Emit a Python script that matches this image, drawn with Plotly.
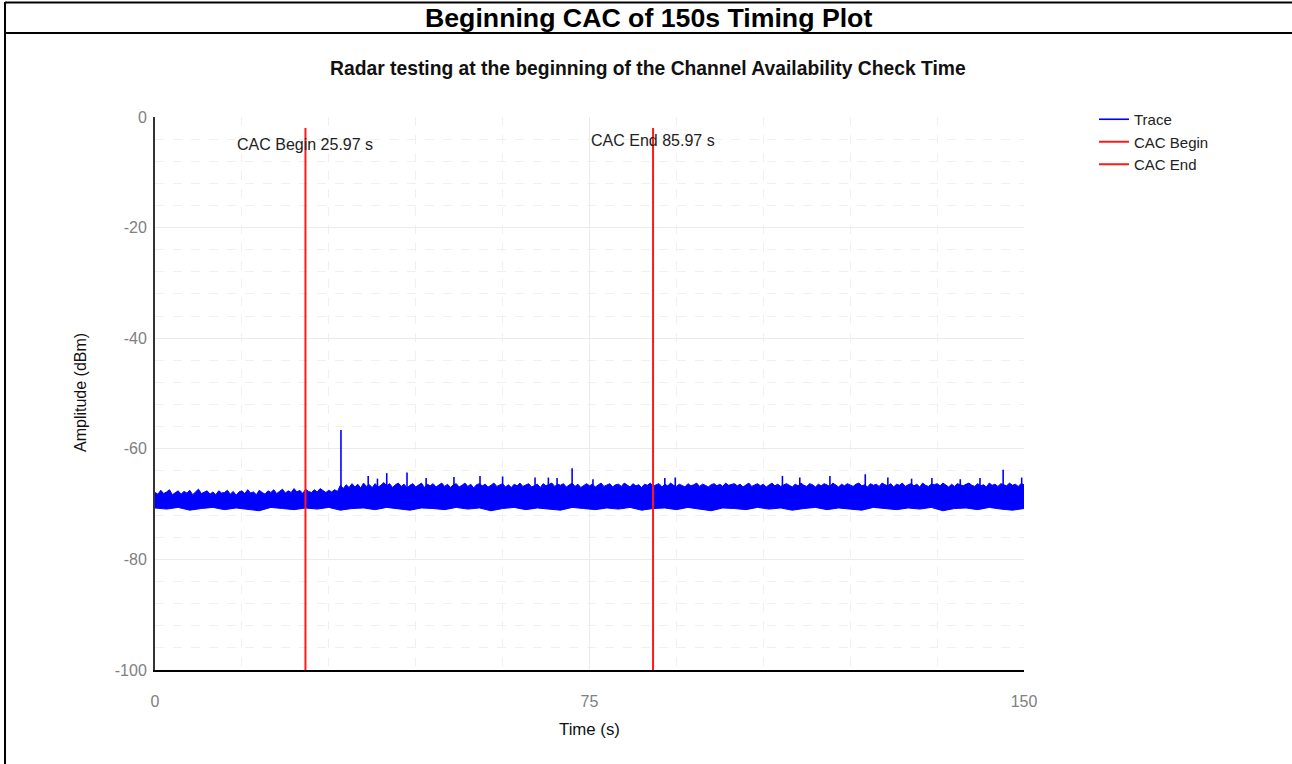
import numpy as np
import plotly.graph_objects as go

# ---- data ----
page_title = "Beginning CAC of 150s Timing Plot"
chart_title = "Radar testing at the beginning of the Channel Availability Check Time"

# upper edge of the noise floor, one value every 0.5 s (0 .. 150 s)
band_step = 0.5
band_top = [
    -67.9, -68.2, -67.5, -68.1, -67.8, -67.4, -68.3, -67.9, -67.6, -68.2, -67.7, -68.0, -67.5, -68.3, -67.8, -67.3, -68.1, -67.9, -67.6, -68.2,
    -67.8, -68.3, -67.6, -68.0, -67.9, -67.5, -68.2, -67.7, -68.4, -67.8, -67.6, -68.1, -67.4, -68.0, -67.8, -68.3, -67.5, -67.9, -68.2, -67.6,
    -67.9, -67.4, -68.1, -67.7, -67.3, -68.0, -67.6, -67.9, -67.2, -67.8, -67.5, -68.1, -67.3, -67.7, -67.9, -67.4, -67.8, -67.2, -67.6, -67.9,
    -67.5, -67.8, -67.4, -67.7, -66.6, -67.2, -66.5, -67.0, -66.3, -66.9, -66.4, -67.1, -66.2, -66.8, -66.5, -67.0, -66.3, -66.9, -66.6, -66.1,
    -66.7, -66.3, -67.0, -66.5, -66.2, -66.8, -66.4, -67.1, -66.6, -66.3, -66.9, -66.5, -66.2, -67.0, -66.4, -66.7, -66.3, -66.9, -66.6, -66.2,
    -66.8, -66.4, -67.0, -66.5, -66.3, -66.9, -66.6, -66.2, -66.8, -66.4, -67.1, -66.5, -66.3, -66.7, -66.4, -66.9, -66.6, -66.2, -66.8, -66.5,
    -66.3, -66.9, -66.5, -67.0, -66.4, -66.7, -66.2, -66.8, -66.5, -66.3, -66.9, -66.6, -66.4, -67.0, -66.3, -66.7, -66.5, -66.2, -66.8, -66.4,
    -66.6, -66.3, -66.9, -66.5, -66.2, -66.8, -66.4, -67.0, -66.6, -66.3, -66.7, -66.4, -66.9, -66.5, -66.2, -66.8, -66.6, -66.3, -66.9, -66.5,
    -66.4, -66.8, -66.2, -66.6, -66.9, -66.3, -66.7, -66.5, -67.0, -66.4, -66.6, -66.2, -66.8, -66.5, -66.3, -66.9, -66.4, -66.7, -66.2, -66.6,
    -66.8, -66.4, -66.6, -66.9, -66.3, -66.7, -66.5, -66.2, -66.8, -66.4, -66.6, -66.9, -66.5, -66.3, -66.7, -66.4, -66.8, -66.2, -66.6, -66.5,
    -66.3, -66.7, -66.4, -66.9, -66.5, -66.2, -66.8, -66.6, -66.3, -66.7, -66.4, -66.9, -66.5, -66.2, -66.7, -66.4, -66.8, -66.5, -66.3, -66.6,
    -66.9, -66.4, -66.7, -66.2, -66.6, -66.8, -66.3, -66.5, -66.9, -66.4, -66.7, -66.3, -66.6, -66.8, -66.2, -66.5, -66.9, -66.4, -66.7, -66.3,
    -66.6, -66.8, -66.4, -66.2, -66.7, -66.5, -66.9, -66.3, -66.6, -66.4, -66.8, -66.2, -66.5, -66.7, -66.3, -66.9, -66.4, -66.6, -66.2, -66.8,
    -66.5, -66.3, -66.7, -66.4, -66.9, -66.2, -66.6, -66.8, -66.4, -66.5, -66.3, -66.7, -66.2, -66.6, -66.9, -66.4, -66.8, -66.3, -66.5, -66.7,
    -66.4, -66.2, -66.6, -66.8, -66.3, -66.7, -66.5, -66.9, -66.2, -66.6, -66.4, -66.8, -66.3, -66.5, -66.7, -66.2, -66.6, -66.4, -66.8, -66.3,
    -66.5,
]

# lower edge of the noise floor, one value every 2 s
floor_step = 2.0
band_bottom = [
    -70.7, -70.9, -70.6, -71.1, -70.8, -70.6, -71.0, -70.7, -70.9, -71.2, -70.6, -70.8, -71.0, -70.7, -70.9, -70.6, -71.1, -70.8, -70.7, -71.0,
    -70.6, -70.9, -71.1, -70.7, -70.8, -71.0, -70.6, -70.9, -70.7, -71.2, -70.8, -70.6, -71.0, -70.7, -70.9, -71.1, -70.6, -70.8, -71.0, -70.7,
    -70.9, -70.6, -71.1, -70.8, -70.7, -71.0, -70.6, -70.9, -71.2, -70.7, -70.8, -71.0, -70.6, -70.9, -70.7, -71.1, -70.8, -70.6, -71.0, -70.7,
    -70.9, -71.1, -70.6, -70.8, -71.0, -70.7, -70.9, -70.6, -71.2, -70.8, -70.7, -71.0, -70.6, -70.9, -71.1, -70.8,
]

# isolated peaks sticking out of the floor
spike_times = [32.1, 36.8, 38.4, 40.0, 43.5, 46.8, 51.6, 56.1, 60.0, 65.6, 67.9, 69.4, 72.0, 75.6,
               88.0, 89.8, 108.3, 111.3, 116.5, 122.6, 126.5, 130.6, 134.1, 139.0, 142.4, 146.4, 149.6]
spike_levels = [-56.6, -64.9, -65.4, -64.4, -64.3, -65.3, -65.1, -64.9, -65.0, -65.2, -65.2, -65.3, -63.5, -65.5,
                -65.3, -65.2, -64.9, -65.2, -64.9, -64.6, -65.2, -65.4, -65.3, -65.5, -65.3, -63.8, -65.2]

cac_names = ["CAC Begin", "CAC End"]
cac_times = [25.97, 85.97]
cac_labels = ["CAC Begin 25.97 s", "CAC End 85.97 s"]

x_ticks = [0, 75, 150]
y_ticks = [-100, -80, -60, -40, -20, 0]
y_tick_text = ["-100", "-80", "-60", "-40", "-20", "0"]

W, H = 1292, 764
BLUE = "#0000ff"
RED = "#ff1a1a"
FONT = "Liberation Sans"

# ---- build figure ----
top_t = np.arange(len(band_top)) * band_step
bot_t = np.arange(len(band_bottom)) * floor_step
bot_t[-1] = min(bot_t[-1], 150)

fig = go.Figure()

# spikes: vertical strokes from inside the band up to the peak
sx, sy = [], []
for t, v in zip(spike_times, spike_levels):
    sx += [t, t, None]
    sy += [-69.0, v, None]
fig.add_trace(go.Scatter(x=sx, y=sy, mode="lines", name="Trace",
                         line=dict(color=BLUE, width=1.6)))

# noise floor as a filled band
poly_x = list(top_t) + list(bot_t[::-1])
poly_y = list(band_top) + list(band_bottom[::-1])
fig.add_trace(go.Scatter(x=poly_x, y=poly_y, mode="lines", fill="toself",
                         fillcolor=BLUE, line=dict(color=BLUE, width=1),
                         showlegend=False, hoverinfo="skip"))

for name, t in zip(cac_names, cac_times):
    fig.add_trace(go.Scatter(x=[t, t], y=[-100, -2], mode="lines", name=name,
                             line=dict(color=RED, width=2)))

for t, lab, yv in zip(cac_times, cac_labels, [-4.9, -4.3]):
    fig.add_annotation(x=t, y=yv, xref="x", yref="y", text=lab, showarrow=False,
                       xanchor="center", yanchor="middle",
                       font=dict(family=FONT, size=16, color="#222222"))


def page_text(px, py, text, size, color="#111111", angle=0):
    fig.add_annotation(x=px / W, y=1 - py / H, xref="paper", yref="paper", text=text,
                       showarrow=False, xanchor="center", yanchor="middle", textangle=angle,
                       font=dict(family=FONT, size=size, color=color))


# page header / table frame
page_text(648, 18, "<b>" + page_title + "</b>", 26.7, "black")
page_text(648, 68, "<b>" + chart_title + "</b>", 19.3)
page_text(589, 729, "Time (s)", 16.8)
page_text(80, 393, "Amplitude (dBm)", 16, angle=-90)

for y0 in [2.5, 33]:
    fig.add_shape(type="line", xref="paper", yref="paper", x0=5 / W, x1=1, y0=1 - y0 / H, y1=1 - y0 / H,
                  line=dict(color="black", width=2))
fig.add_shape(type="line", xref="paper", yref="paper", x0=5 / W, x1=5 / W, y0=0, y1=1 - 2 / H,
              line=dict(color="black", width=2))

grid_major = "#ebebeb"
grid_minor = "#f0f0f0"

fig.update_layout(
    width=W, height=H,
    paper_bgcolor="white", plot_bgcolor="white",
    margin=dict(l=0, r=0, t=0, b=0, autoexpand=False),
    font=dict(family=FONT, size=16, color="#808080"),
    showlegend=True,
    legend=dict(x=1094 / W, y=1 - 103 / H, xanchor="left", yanchor="top",
                font=dict(family=FONT, size=15, color="#222222"),
                bgcolor="rgba(0,0,0,0)", tracegroupgap=0, itemwidth=30),
    xaxis=dict(domain=[155 / W, 1024 / W], range=[0, 150], tickvals=x_ticks,
               showgrid=True, gridcolor=grid_major, zeroline=False, automargin=False,
               showline=True, linecolor="black", linewidth=2,
               ticks="", ticklabelstandoff=16,
               tickfont=dict(family=FONT, size=16, color="#808080"),
               minor=dict(tickmode="linear", tick0=0, dtick=15, showgrid=True,
                          gridcolor=grid_minor, griddash="dash", ticks="")),
    yaxis=dict(domain=[1 - 670 / H, 1 - 117 / H], range=[-100, 0],
               tickvals=y_ticks, ticktext=y_tick_text,
               showgrid=True, gridcolor=grid_major, zeroline=False, automargin=False,
               showline=True, linecolor="#333333", linewidth=2,
               ticks="", ticklabelstandoff=3,
               tickfont=dict(family=FONT, size=16, color="#808080"),
               minor=dict(tickmode="linear", tick0=0, dtick=4, showgrid=True,
                          gridcolor=grid_minor, griddash="dash", ticks="")),
)

# the page's default body margin would push the figure 8px off the window corner
fig.write_html("out.html", config={"displayModeBar": False},
               post_script="document.body.style.margin='0px';document.body.style.overflow='hidden';")
